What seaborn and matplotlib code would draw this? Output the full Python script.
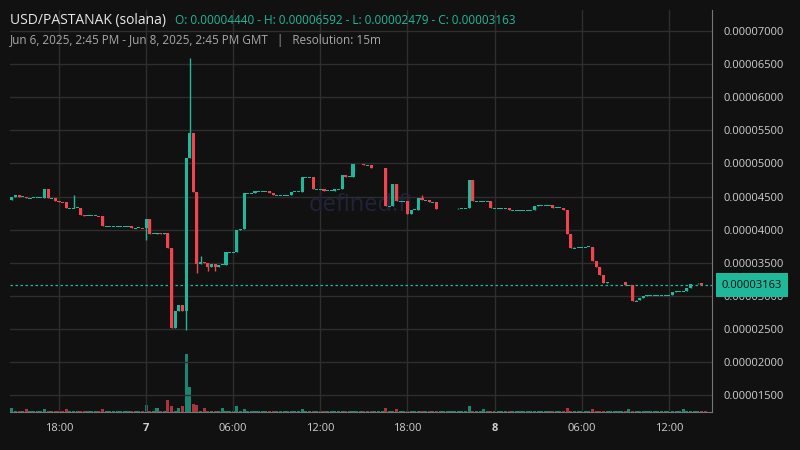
import numpy as np
import matplotlib
matplotlib.use("Agg")
import matplotlib.pyplot as plt
import seaborn as sns

# prices in units of 1e-5, 15-minute candles from Jun 6 14:45 GMT
first_open = 4.45
closes = [
    4.49, 4.52, 4.50, 4.50, 4.47, 4.48, 4.48, 4.48, 4.48, 4.61, 4.47, 4.47, 4.43, 4.42, 4.41, 4.32,
    4.32, 4.33, 4.33, 4.22, 4.21, 4.21, 4.21, 4.21, 4.20, 4.05, 4.05, 4.05, 4.05, 4.05, 4.05, 4.05,
    4.05, 4.02, 4.03, 4.03, 4.02, 4.16, 3.94, 3.94, 3.95, 3.94, 3.95, 3.72, 2.52, 2.77, 2.86, 2.77,
    5.08, 5.46, 4.57, 3.48, 3.51, 3.49, 3.43, 3.48, 3.43, 3.47, 3.47, 3.66, 3.66, 3.66, 3.99, 4.01,
    4.55, 4.55, 4.55, 4.58, 4.58, 4.58, 4.58, 4.56, 4.52, 4.52, 4.52, 4.52, 4.52, 4.57, 4.57, 4.57,
    4.79, 4.79, 4.79, 4.61, 4.61, 4.61, 4.59, 4.59, 4.59, 4.61, 4.61, 4.82, 4.80, 4.80, 4.99, 4.99,
    4.99, 4.97, 4.97, 4.93, 4.93, 4.93, 4.93, 4.35, 4.35, 4.69, 4.43, 4.43, 4.43, 4.24, 4.30, 4.30,
    4.47, 4.44, 4.44, 4.41, 4.41, 4.31, 4.31, 4.31, 4.31, 4.31, 4.31, 4.32, 4.32, 4.32, 4.75, 4.43,
    4.43, 4.43, 4.43, 4.43, 4.32, 4.32, 4.32, 4.32, 4.32, 4.29, 4.29, 4.29, 4.29, 4.29, 4.29, 4.29,
    4.35, 4.37, 4.37, 4.37, 4.37, 4.33, 4.33, 4.33, 4.30, 3.93, 3.72, 3.73, 3.73, 3.73, 3.74, 3.74,
    3.53, 3.43, 3.31, 3.19, 3.21, 3.21, 3.21, 3.21, 3.21, 3.16, 3.17, 2.92, 2.93, 2.96, 2.99, 3.01,
    3.01, 3.01, 3.01, 3.01, 3.01, 3.01, 3.06, 3.07, 3.07, 3.07, 3.12, 3.18, 3.18, 3.19, 3.17, 3.163,
]
wick_idx = [17, 37, 48, 49, 51, 52, 54, 56, 113]
wick_hi = [4.52, 4.16, 5.08, 6.592, 3.50, 3.60, 3.49, 3.48, 4.53]
wick_lo = [4.32, 3.84, 2.479, 5.08, 3.34, 3.48, 3.38, 3.38, 4.44]

vol_idx = [0, 4, 9, 15, 25, 37, 40, 43, 44, 46, 47, 48, 49, 50, 51, 53, 58, 62, 64, 80, 103, 106, 126, 130, 153, 160, 170, 185]
vol_val = [3, 2, 2, 2, 2, 5, 3, 9, 4, 3, 4, 42, 18, 6, 5, 3, 3, 4, 2, 2, 3, 2, 4, 2, 3, 2, 2, 2]

tick_pos = [13, 37, 61, 85, 109, 133, 157, 181]
tick_lab = ["18:00", "7", "06:00", "12:00", "18:00", "8", "06:00", "12:00"]
price_ticks = [1.5, 2.0, 2.5, 3.0, 3.5, 4.0, 4.5, 5.0, 5.5, 6.0, 6.5, 7.0]

sns.set_style("dark")
plt.rcParams['font.family'] = ['Open Sans', 'DejaVu Sans']

n = len(closes)
opens = np.array([first_open] + closes[:-1])
closes_a = np.array(closes)
highs = np.maximum(opens, closes_a)
lows = np.minimum(opens, closes_a)
for i, h, l in zip(wick_idx, wick_hi, wick_lo):
    highs[i] = max(highs[i], h)
    lows[i] = min(lows[i], l)
up = closes_a >= opens
GREEN, RED = "#1fb89a", "#f0444f"
colors = np.where(up, GREEN, RED)
idx = np.arange(n)

BG = "#111111"
fig = plt.figure(figsize=(8, 4.5), dpi=100, facecolor=BG)
ax = fig.add_axes([0.0125, 0.0844, 0.8775, 0.8934], facecolor=BG)
ax2 = ax.twinx()
ax.set_zorder(ax2.get_zorder() + 1)
ax.patch.set_visible(False)
ax2.set_facecolor(BG)

vols = np.full(n, 0.6)
for i, v in zip(vol_idx, vol_val):
    vols[i] = v
ax2.bar(idx, vols, width=0.85, color=colors, alpha=0.7, linewidth=0)
ax2.set_ylim(0, max(vol_val) * 6.9)
ax2.set_yticks([])
for s in ax2.spines.values():
    s.set_visible(False)

ax.vlines(idx, lows, highs, colors=colors, linewidth=1, zorder=3)
small = np.abs(closes_a - opens) < 0.012
body = np.maximum(np.abs(closes_a - opens), 0.012)
ax.bar(idx, body, bottom=np.minimum(opens, closes_a) - np.where(small, 0.006, 0),
       width=0.85, color=colors, linewidth=0, zorder=4)
ax.set_xlim(-0.5, 192.9)
ax.set_ylim(1.245, 7.317)
ax.set_yticks(price_ticks)
ax.set_yticklabels([f"{v*1e-5:.8f}" for v in price_ticks], color="#d0d0d0", fontsize=8)
ax.yaxis.tick_right()
ax.set_xticks(tick_pos)
ax.set_xticklabels(tick_lab, color="#d0d0d0", fontsize=8)
for t, lab in zip(ax.get_xticklabels(), tick_lab):
    if lab in ("7", "8"):
        t.set_fontweight("bold")
ax.tick_params(length=0, pad=8)
ax.grid(True, color="#2e2e2e", linewidth=1)
for s in ax.spines.values():
    s.set_visible(False)
ax.spines['right'].set_visible(True)
ax.spines['right'].set_color("#777777")
ax.spines['bottom'].set_visible(True)
ax.spines['bottom'].set_color("#777777")

last = closes[-1]
ax.axhline(last, color=GREEN, linestyle=(0, (2, 2)), linewidth=0.9, zorder=2)
ax.annotate(f"{last*1e-5:.8f}", xy=(1.0, last), xycoords=ax.get_yaxis_transform(),
            xytext=(7, 0), textcoords="offset points", ha="left", va="center",
            fontsize=8, color="#111111", annotation_clip=False,
            bbox=dict(boxstyle="square,pad=0.55", fc=GREEN, ec="none"), zorder=10)

fig.text(0.0125, 0.955, "USD/PASTANAK (solana)", color="#e8e8e8", fontsize=10, va="center")
fig.text(0.219, 0.955, "O: 0.00004440 - H: 0.00006592 - L: 0.00002479 - C: 0.00003163",
         color=GREEN, fontsize=8.5, va="center")
fig.text(0.0125, 0.91, "Jun 6, 2025, 2:45 PM - Jun 8, 2025, 2:45 PM GMT   |   Resolution: 15m",
         color="#a8a8a8", fontsize=8.5, va="center")
ax.text(0.5, 0.515, "defined.fi", transform=ax.transAxes, ha="center", va="center",
        fontsize=17, color="#22223a", zorder=1)

fig.savefig("out.png", dpi=100, facecolor=BG)
